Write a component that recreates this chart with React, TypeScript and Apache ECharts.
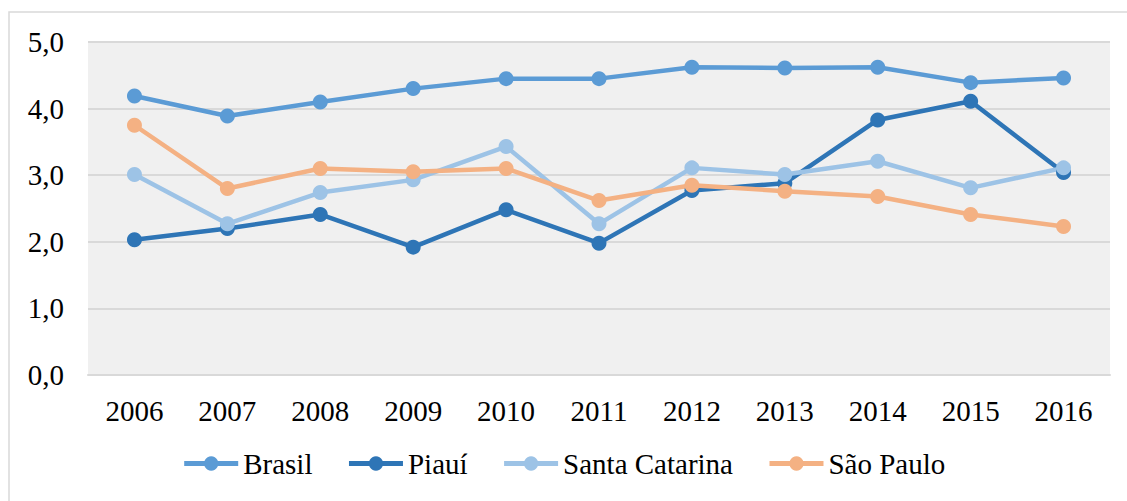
import React, { useEffect, useRef } from "react";
import * as echarts from "echarts";

const years = ["2006", "2007", "2008", "2009", "2010", "2011", "2012", "2013", "2014", "2015", "2016"];
const brasil = [4.19, 3.89, 4.1, 4.3, 4.45, 4.45, 4.62, 4.61, 4.62, 4.39, 4.46];
const piaui = [2.03, 2.2, 2.41, 1.92, 2.48, 1.98, 2.77, 2.88, 3.83, 4.11, 3.04];
const santaCatarina = [3.01, 2.27, 2.74, 2.93, 3.43, 2.27, 3.11, 3.01, 3.21, 2.81, 3.11];
const saoPaulo = [3.75, 2.8, 3.1, 3.05, 3.1, 2.62, 2.85, 2.76, 2.68, 2.41, 2.23];

const seriesNames = ["Brasil", "Piauí", "Santa Catarina", "São Paulo"];
const seriesColors = ["#5b9bd5", "#2e75b6", "#9dc3e6", "#f4b183"];
const seriesData = [brasil, piaui, santaCatarina, saoPaulo];

const FONT = "serif";

export default function App() {
  const ref = useRef<HTMLDivElement>(null);
  useEffect(() => {
    if (!ref.current) return;
    const chart = echarts.init(ref.current, undefined, { renderer: "svg" });
    chart.setOption({
      animation: false,
      backgroundColor: "#ffffff",
      graphic: [
        {
          type: "rect",
          shape: { x: 9, y: 12, width: 1130, height: 500 },
          style: { fill: "none", stroke: "#d9d9d9", lineWidth: 1.5 },
          silent: true,
        },
      ],
      grid: {
        left: 88,
        right: 17,
        top: 42,
        bottom: 126,
        show: true,
        backgroundColor: "#f0f0f0",
        borderWidth: 0,
      },
      legend: {
        bottom: 18,
        left: "center",
        itemWidth: 54,
        itemHeight: 18,
        itemGap: 34,
        data: seriesNames,
        lineStyle: { width: 5 },
        textStyle: { fontFamily: FONT, fontSize: 29, color: "#000" },
      },
      xAxis: {
        type: "category",
        data: years,
        boundaryGap: true,
        axisLine: { show: true, lineStyle: { color: "#d9d9d9", width: 2 } },
        axisTick: { show: false },
        axisLabel: { fontFamily: FONT, fontSize: 29, color: "#000", margin: 21 },
      },
      yAxis: {
        type: "value",
        min: 0,
        max: 5,
        interval: 1,
        axisLine: { show: false },
        axisTick: { show: false },
        splitLine: { lineStyle: { color: "#d9d9d9", width: 2 } },
        axisLabel: {
          fontFamily: FONT,
          fontSize: 29,
          color: "#000",
          margin: 24,
          formatter: (v: number) => v.toFixed(1).replace(".", ","),
        },
      },
      series: seriesNames.map((name, i) => ({
        name,
        type: "line",
        data: seriesData[i],
        symbol: "circle",
        symbolSize: 15,
        color: seriesColors[i],
        lineStyle: { width: 4.5, color: seriesColors[i] },
        itemStyle: { color: seriesColors[i] },
      })),
    });
    return () => chart.dispose();
  }, []);
  return (
    <div
      ref={ref}
      style={{ position: "fixed", left: 0, top: 0, width: 1127, height: 501 }}
    />
  );
}
